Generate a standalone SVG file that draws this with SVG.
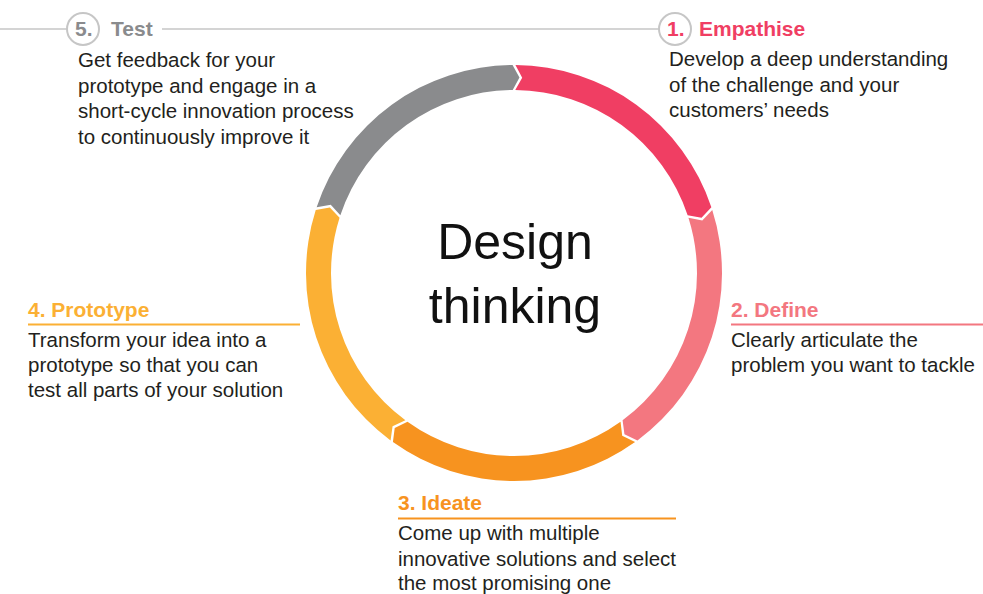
<svg xmlns="http://www.w3.org/2000/svg" width="983" height="594" viewBox="0 0 983 594">
<style>
.body{font-family:"Liberation Sans",Arial,sans-serif;font-size:20.5px;fill:#231f20}
.head{font-family:"Liberation Sans",Arial,sans-serif;font-size:21px;font-weight:bold}
.title{font-family:"Liberation Sans",Arial,sans-serif;font-size:50px;fill:#111;text-anchor:middle}
.rule{stroke:#c6c6c6;stroke-width:1.6;fill:none}
.ring{stroke:#c6c6c6;stroke-width:2;fill:#fff}
</style>
<defs>
<path id="seg" d="M721.995 274.452 A208 208 0 0 1 579.655 470.366 L569.198 460.546 L571.764 446.644 A183 183 0 0 0 696.996 274.278 L709.33 281.19 Z"/>
</defs>
<g id="connectors">
<line class="rule" x1="0" y1="29" x2="67" y2="29"/>
<line class="rule" x1="162" y1="29" x2="659" y2="29"/>
<line x1="731" y1="324.5" x2="983" y2="324.5" stroke="#f37780" stroke-width="2"/>
<line x1="28" y1="324.5" x2="300" y2="324.5" stroke="#fbb034" stroke-width="2"/>
<line x1="398" y1="518.5" x2="676" y2="518.5" stroke="#f7931f" stroke-width="2"/>
</g>
<g id="cycle">
<use href="#seg" fill="#f03e63" transform="rotate(-90 514 273)"/>
<use href="#seg" fill="#f37780" transform="rotate(-18 514 273)"/>
<use href="#seg" fill="#f7931f" transform="rotate(54 514 273)"/>
<use href="#seg" fill="#fbb034" transform="rotate(126 514 273)"/>
<use href="#seg" fill="#8a8b8d" transform="rotate(198 514 273)"/>
</g>
<g id="center">
<text class="title" x="515" y="259">Design</text>
<text class="title" x="515" y="323">thinking</text>
</g>
<g id="step1">
<circle class="ring" cx="675" cy="29" r="16"/>
<text class="head" x="667" y="36" fill="#f03e63">1.</text>
<text class="head" x="699" y="36" fill="#f03e63">Empathise</text>
<text class="body" x="669" y="66">Develop a deep understanding</text>
<text class="body" x="669" y="92">of the challenge and your</text>
<text class="body" x="669" y="117">customers’ needs</text>
</g>
<g id="step2">
<text class="head" x="731" y="317" fill="#f37780">2. Define</text>
<text class="body" x="731" y="347">Clearly articulate the</text>
<text class="body" x="731" y="372">problem you want to tackle</text>
</g>
<g id="step3">
<text class="head" x="398" y="510" fill="#f7931f">3. Ideate</text>
<text class="body" x="398" y="540">Come up with multiple</text>
<text class="body" x="398" y="566">innovative solutions and select</text>
<text class="body" x="398" y="590">the most promising one</text>
</g>
<g id="step4">
<text class="head" x="28" y="317" fill="#fbb034">4. Prototype</text>
<text class="body" x="28" y="347">Transform your idea into a</text>
<text class="body" x="28" y="372">prototype so that you can</text>
<text class="body" x="28" y="397">test all parts of your solution</text>
</g>
<g id="step5">
<circle class="ring" cx="83" cy="29" r="16"/>
<text class="head" x="75" y="36" fill="#8a8b8d">5.</text>
<text class="head" x="111" y="36" fill="#8a8b8d">Test</text>
<text class="body" x="78" y="67">Get feedback for your</text>
<text class="body" x="78" y="93">prototype and engage in a</text>
<text class="body" x="78" y="118">short-cycle innovation process</text>
<text class="body" x="78" y="144">to continuously improve it</text>
</g>
</svg>
